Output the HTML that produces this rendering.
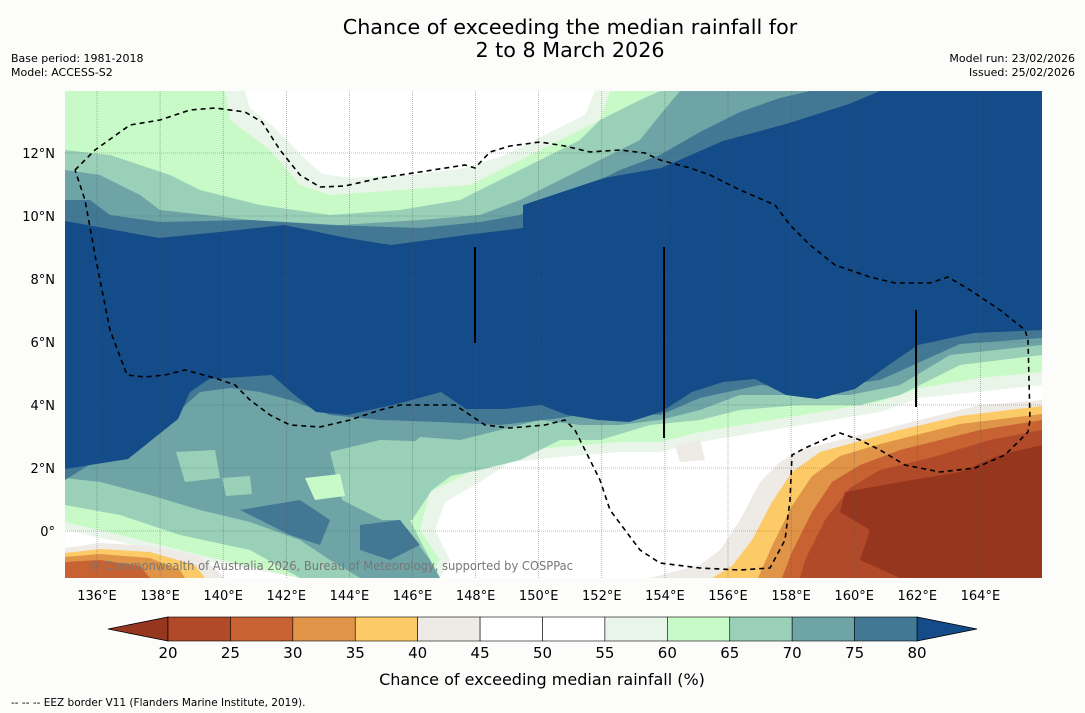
<!DOCTYPE html>
<html><head><meta charset="utf-8">
<style>
html,body{margin:0;padding:0;background:#fcfdfb;}
body{width:1085px;height:713px;overflow:hidden;position:relative;font-family:"DejaVu Sans","Liberation Sans",sans-serif;}
svg{position:absolute;left:0;top:0;font-family:"DejaVu Sans","Liberation Sans",sans-serif;}
</style></head>
<body>
<svg id="chart" width="1085" height="713" viewBox="0 0 1085 713" xmlns="http://www.w3.org/2000/svg">
<defs><clipPath id="mapclip"><rect x="65" y="91" width="977" height="487"/></clipPath></defs>
<text x="570" y="34" text-anchor="middle" font-size="20.7" fill="#000">Chance of exceeding the median rainfall for</text>
<text x="570" y="57" text-anchor="middle" font-size="20.7" fill="#000">2 to 8 March 2026</text>
<text x="11" y="62" font-size="11">Base period: 1981-2018</text>
<text x="11" y="76" font-size="11">Model: ACCESS-S2</text>
<text x="1075" y="62" font-size="11" text-anchor="end">Model run: 23/02/2026</text>
<text x="1075" y="76" font-size="11" text-anchor="end">Issued: 25/02/2026</text>
<g id="map" clip-path="url(#mapclip)"></g>
<g id="axes"></g>
<g id="cbar"></g>
<text x="542" y="685" text-anchor="middle" font-size="16">Chance of exceeding median rainfall (%)</text>
<text x="11" y="706" font-size="10.5">--  --  -- EEZ border V11 (Flanders Marine Institute, 2019).</text>
</svg>
<script>
const cbarBounds=[20,25,30,35,40,45,50,55,60,65,70,75,80];
const cbarColors=["#b04a28","#c86232","#e09448","#fdca68","#eeeae6","#ffffff","#ffffff","#eaf5ea","#c8fac8","#9ad0b8","#6ea4a6","#437894"];
const lonTicks=[136,138,140,142,144,146,148,150,152,154,156,158,160,162,164];
const latTicks=[0,2,4,6,8,10,12];
const NS="http://www.w3.org/2000/svg";
const lonX=l=>97+(l-136)*31.55;
const latY=l=>531-l*31.5;
function mk(tag,at,parent){const e=document.createElementNS(NS,tag);for(const k in at)e.setAttribute(k,at[k]);parent.appendChild(e);return e;}
const map=document.getElementById('map');
mk('rect',{x:65,y:91,width:977,height:487,fill:'#ffffff'},map);
const regions=[
["#eaf5ea","65,91 1042,91 1042,385 920,398 880,412 820,422 760,432 700,442 660,452 620,452 560,457 510,462 480,482 445,502 435,530 450,560 440,578 300,578 200,560 120,542 65,530"],
["#eaf5ea","65,91 250,91 250,110 275,140 300,170 330,180 400,178 470,172 520,150 560,130 590,110 600,91"],
["#c8fac8","65,91 225,91 230,120 270,150 300,185 330,195 400,190 470,185 520,160 560,140 600,120 610,91 1042,91 1042,372 980,378 920,388 880,402 820,412 760,422 700,432 660,442 620,442 560,447 500,452 470,472 430,492 420,530 440,560 430,578 300,578 200,555 120,535 65,522"],
["#ffffff","245,91 595,91 585,115 545,135 505,155 465,168 420,174 350,178 322,174 302,156 275,128 250,108"],
["#9ad0b8","65,150 110,155 140,165 170,175 200,190 260,205 330,215 400,210 460,200 500,180 540,160 580,140 600,120 640,100 660,91 1042,91 1042,355 960,365 900,395 860,405 800,405 740,410 700,420 650,425 600,440 560,440 520,460 480,470 440,478 400,500 420,540 440,578 300,578 250,550 180,535 120,515 65,505"],
["#6ea4a6","65,170 100,175 140,195 160,210 250,220 340,225 420,220 480,215 520,200 560,180 600,160 640,140 660,115 680,91 1042,91 1042,345 950,355 900,385 850,395 800,395 740,395 700,410 660,420 620,425 580,425 540,420 500,430 460,440 420,437 400,455 380,480 400,520 430,560 440,578 360,578 330,560 300,540 250,522 200,510 150,495 100,482 65,478"],
["#9ad0b8","330,452 380,440 440,442 470,462 432,490 412,520 382,520 342,500"],
["#c8fac8","305,478 340,474 345,496 315,500"],
["#9ad0b8","176,452 215,450 220,478 185,482"],
["#9ad0b8","222,478 250,476 252,494 226,496"],
["#437894","65,200 90,200 110,215 160,222 250,220 330,225 420,228 480,222 520,215 580,190 620,170 660,155 700,132 740,112 780,98 810,91 1042,91 1042,338 960,344 920,362 880,380 820,388 760,385 700,398 660,415 610,410 560,418 500,425 440,422 380,420 330,415 290,400 260,392 230,388 200,392 180,410 150,430 110,452 65,480"],
["#437894","240,510 300,500 330,520 320,545 290,535"],
["#437894","360,525 400,520 420,545 390,560 360,550"],
["#134c88","65,221 159,238 220,232 284,225 347,238 391,245 466,235 523,228 523,205 604,178 661,168 723,141 786,124 849,104 880,91 1042,91 1042,330 974,333 918,345 893,362 855,389 817,399 786,395 755,379 723,382 692,392 661,412 629,422 598,420 567,415 541,405 504,409 466,409 441,392 397,404 347,415 316,412 291,392 272,375 209,379 190,392 178,419 128,459 65,469"],
["#eeeae6","1042,400 980,405 920,420 880,430 840,440 800,450 780,462 760,482 740,520 720,550 700,565 650,578 1042,578"],
["#eeeae6","65,548 100,543 150,546 200,556 225,578 65,578"],
["#eeeae6","675,445 700,440 705,460 680,462"],
["#fdca68","1042,406 960,416 900,430 860,441 820,452 792,472 772,502 752,540 732,566 712,578 1042,578"],
["#fdca68","65,553 100,549 150,552 195,565 205,578 65,578"],
["#e09448","1042,414 960,424 880,444 840,456 812,476 792,506 772,546 758,578 1042,578"],
["#e09448","65,557 100,554 150,558 180,570 185,578 65,578"],
["#c86232","1042,420 980,430 900,450 860,465 832,482 812,512 792,552 782,578 1042,578"],
["#c86232","65,562 100,560 140,566 150,578 65,578"],
["#b04a28","1042,430 990,440 930,458 880,470 850,488 825,520 805,560 800,578 1042,578"],
["#96361f","1042,445 1000,455 960,472 900,482 845,492 840,512 870,530 860,560 900,578 1042,578"]
];
regions.forEach((r,i)=>{const p=mk('polygon',{points:r[1],fill:r[0]},map);

});
lonTicks.forEach(l=>{const ln=mk('line',{x1:lonX(l),x2:lonX(l),y1:91,y2:578,stroke:'#555','stroke-width':0.6,'stroke-dasharray':'1,1',opacity:0.7},map);

});
latTicks.forEach(l=>{const ln=mk('line',{x1:65,x2:1042,y1:latY(l),y2:latY(l),stroke:'#555','stroke-width':0.6,'stroke-dasharray':'1,1',opacity:0.7},map);

});
[[475,247,343],[664,247,438],[916,310,407]].forEach(v=>{const ln=mk('line',{x1:v[0],x2:v[0],y1:v[1],y2:v[2],stroke:'#000','stroke-width':2},map);

});
const eez=mk('polyline',{points:"75,170 95,150 130,125 160,120 190,110 215,108 245,112 262,122 280,150 300,175 320,187 345,186 380,178 420,172 465,165 475,168 490,152 510,146 540,142 565,146 590,152 620,150 645,153 660,160 690,168 710,175 740,190 775,205 790,225 810,245 835,265 870,277 895,283 930,283 948,277 970,290 1000,310 1025,330 1028,340 1030,420 1028,432 1005,455 975,468 940,472 905,465 880,450 860,440 840,433 830,437 805,448 792,455 790,500 785,540 770,568 740,570 700,568 660,563 640,550 610,510 600,480 590,460 585,450 575,430 565,420 545,425 510,428 485,425 470,415 455,405 425,405 400,405 380,410 350,420 320,427 290,425 270,415 250,400 235,385 215,378 185,370 165,375 145,377 127,375 110,330 95,255 85,200 75,170",fill:'none',stroke:'#000','stroke-width':1.6,'stroke-dasharray':'5,4'},map);


const cp=mk('text',{x:89,y:570,'font-size':12,fill:'#777',textLength:484,lengthAdjust:'spacingAndGlyphs'},map);cp.textContent='© Commonwealth of Australia 2026, Bureau of Meteorology, supported by COSPPac';


const axes=document.getElementById('axes');
lonTicks.forEach(l=>{const t=mk('text',{x:lonX(l),y:600,'font-size':13,'text-anchor':'middle'},axes);t.textContent=l+'°E';

});
latTicks.forEach(l=>{const t=mk('text',{x:55,y:latY(l)+5,'font-size':13,'text-anchor':'end'},axes);t.textContent=l===0?'0°':l+'°N';

});
const cb=document.getElementById('cbar');
const cx=v=>168+(v-20)*(749/60);
const y0=617,h=24;
const lt=mk('polygon',{points:`108,${y0+h/2} 168,${y0} 168,${y0+h}`,fill:'#96361f',stroke:'#000','stroke-width':0.8},cb);


const rt=mk('polygon',{points:`977,${y0+h/2} 917,${y0} 917,${y0+h}`,fill:'#134c88',stroke:'#000','stroke-width':0.8},cb);


cbarColors.forEach((c,i)=>{const r=mk('rect',{x:cx(cbarBounds[i]),y:y0,width:cx(cbarBounds[i+1])-cx(cbarBounds[i]),height:h,fill:c,stroke:'#000','stroke-width':0.6},cb);

});
cbarBounds.forEach(v=>{const t=mk('text',{x:cx(v),y:658,'font-size':15,'text-anchor':'middle'},cb);t.textContent=v;

});
</script>
</body></html>
